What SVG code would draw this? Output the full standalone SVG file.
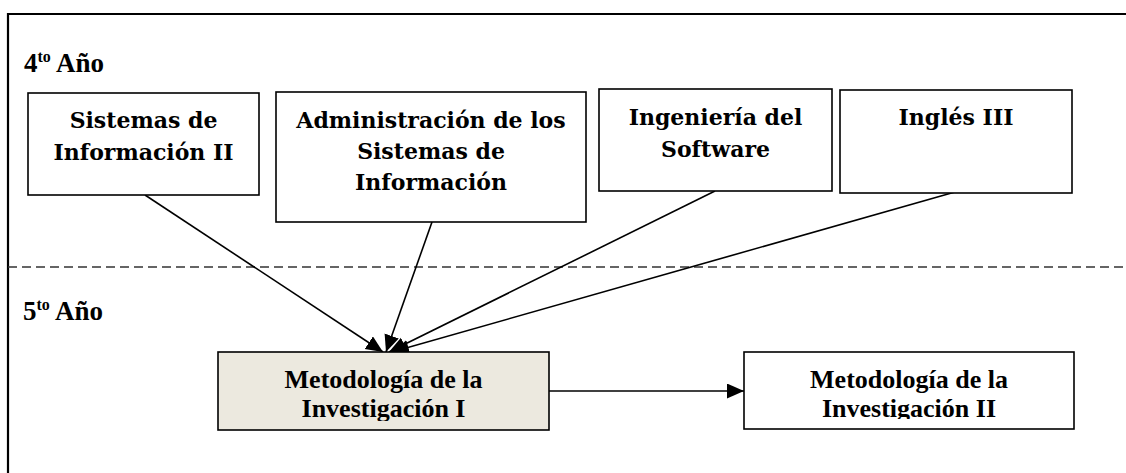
<svg xmlns="http://www.w3.org/2000/svg" width="1126" height="473" viewBox="0 0 1126 473">
<style>
.box{fill:#fff;stroke:#000;stroke-width:1.6}
.mi{fill:#ECE9DF}
.t{font-family:"DejaVu Serif","Liberation Serif",serif;font-weight:bold;font-size:22px;fill:#000;text-anchor:middle}
.m{font-family:"Liberation Serif","Times New Roman",serif;font-weight:bold;font-size:26px;fill:#000;text-anchor:middle}
.lab{font-family:"Liberation Serif","Times New Roman",serif;font-weight:bold;font-size:27px;fill:#000}
.c{stroke:#000;stroke-width:1.6;fill:none;marker-end:url(#ah)}
</style>
<defs>
<marker id="ah" markerUnits="userSpaceOnUse" markerWidth="18" markerHeight="16" refX="17" refY="7.5" orient="auto">
<path d="M0,0 L17,7.5 L0,15 z" fill="#000"/>
</marker>
<clipPath id="cl1"><rect x="218" y="352" width="331" height="69"/></clipPath>
<clipPath id="cl2"><rect x="744" y="352" width="330" height="67"/></clipPath>
</defs>
<rect width="1126" height="473" fill="#fff"/>
<g id="frame">
<path d="M8,473 V14 H1126" fill="none" stroke="#000" stroke-width="2.2"/>
<line x1="8" y1="267" x2="1126" y2="267" stroke="#333" stroke-width="1.3" stroke-dasharray="9,5"/>
</g>
<g id="label-4">
<text class="lab" x="24" y="72">4<tspan font-size="16" dy="-10">to</tspan><tspan dy="10"> Año</tspan></text>
</g>
<g id="label-5">
<text class="lab" x="23" y="320">5<tspan font-size="16" dy="-10">to</tspan><tspan dy="10"> Año</tspan></text>
</g>
<g id="connectors">
<line class="c" x1="145" y1="195" x2="383" y2="352"/>
<line class="c" x1="432" y1="222" x2="386" y2="352"/>
<line class="c" x1="715" y1="191" x2="389" y2="352"/>
<line class="c" x1="955" y1="192" x2="392" y2="352"/>
<line class="c" x1="549" y1="391" x2="744" y2="391"/>
</g>
<g id="si2">
<rect class="box" x="28" y="93" width="231" height="102"/>
<text class="t" x="143.5" y="128">Sistemas de</text>
<text class="t" x="143.5" y="160">Información II</text>
</g>
<g id="asi">
<rect class="box" x="276" y="92" width="310" height="130"/>
<text class="t" x="431" y="128">Administración de los</text>
<text class="t" x="431" y="159">Sistemas de</text>
<text class="t" x="431" y="190">Información</text>
</g>
<g id="is">
<rect class="box" x="599" y="89" width="233" height="102"/>
<text class="t" x="715.5" y="125">Ingeniería del</text>
<text class="t" x="715.5" y="157">Software</text>
</g>
<g id="ing3">
<rect class="box" x="840" y="90" width="232" height="103"/>
<text class="t" x="956" y="125">Inglés III</text>
</g>
<g id="mi1">
<rect class="box mi" x="218" y="352" width="331" height="78"/>
<g clip-path="url(#cl1)">
<text class="m" x="383.5" y="388">Metodología de la</text>
<text class="m" x="383.5" y="417">Investigación I</text>
</g>
</g>
<g id="mi2">
<rect class="box" x="744" y="352" width="330" height="77"/>
<g clip-path="url(#cl2)">
<text class="m" x="909" y="388">Metodología de la</text>
<text class="m" x="909" y="417">Investigación II</text>
</g>
</g>
</svg>
